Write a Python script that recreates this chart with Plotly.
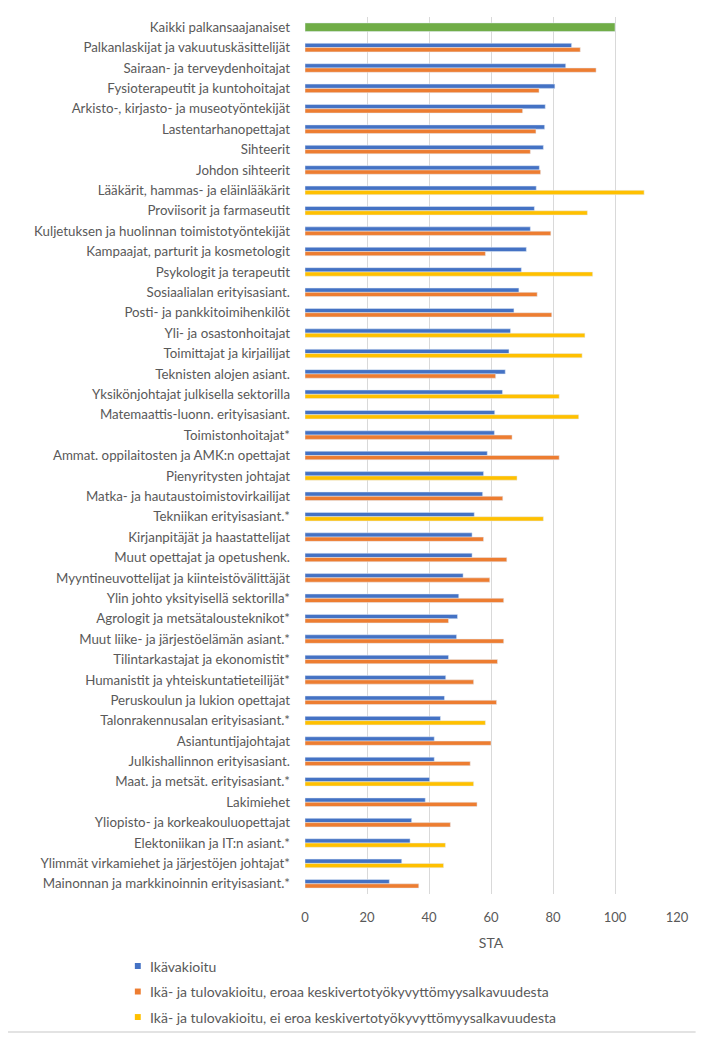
import plotly.graph_objects as go

categories = [
    "Kaikki palkansaajanaiset",
    "Palkanlaskijat ja vakuutuskäsittelijät",
    "Sairaan- ja terveydenhoitajat",
    "Fysioterapeutit ja kuntohoitajat",
    "Arkisto-, kirjasto- ja museotyöntekijät",
    "Lastentarhanopettajat",
    "Sihteerit",
    "Johdon sihteerit",
    "Lääkärit, hammas- ja eläinlääkärit",
    "Proviisorit ja farmaseutit",
    "Kuljetuksen ja huolinnan toimistotyöntekijät",
    "Kampaajat, parturit ja kosmetologit",
    "Psykologit ja terapeutit",
    "Sosiaalialan erityisasiant.",
    "Posti- ja pankkitoimihenkilöt",
    "Yli- ja osastonhoitajat",
    "Toimittajat ja kirjailijat",
    "Teknisten alojen asiant.",
    "Yksikönjohtajat julkisella sektorilla",
    "Matemaattis-luonn. erityisasiant.",
    "Toimistonhoitajat*",
    "Ammat. oppilaitosten ja AMK:n opettajat",
    "Pienyritysten johtajat",
    "Matka- ja hautaustoimistovirkailijat",
    "Tekniikan erityisasiant.*",
    "Kirjanpitäjät ja haastattelijat",
    "Muut opettajat ja opetushenk.",
    "Myyntineuvottelijat ja kiinteistövälittäjät",
    "Ylin johto yksityisellä sektorilla*",
    "Agrologit ja metsätalousteknikot*",
    "Muut liike- ja järjestöelämän asiant.*",
    "Tilintarkastajat ja ekonomistit*",
    "Humanistit ja yhteiskuntatieteilijät*",
    "Peruskoulun ja lukion opettajat",
    "Talonrakennusalan erityisasiant.*",
    "Asiantuntijajohtajat",
    "Julkishallinnon erityisasiant.",
    "Maat. ja metsät. erityisasiant.*",
    "Lakimiehet",
    "Yliopisto- ja korkeakouluopettajat",
    "Elektoniikan ja IT:n asiant.*",
    "Ylimmät virkamiehet ja järjestöjen johtajat*",
    "Mainonnan ja markkinoinnin erityisasiant.*",
]

kaikki_value = 100

ikavakioitu = [None,
    86.0, 84.1, 80.6, 77.5, 77.3, 76.9, 75.6, 74.6, 74.0, 72.7,
    71.4, 69.8, 69.0, 67.4, 66.3, 65.8, 64.6, 63.7, 61.2, 61.1,
    58.8, 57.6, 57.3, 54.6, 53.9, 53.9, 51.0, 49.6, 49.2, 48.9,
    46.3, 45.4, 45.0, 43.7, 41.7, 41.7, 40.2, 38.8, 34.4, 33.9,
    31.2, 27.2]

ika_tulovakioitu = [None,
    88.8, 93.9, 75.5, 70.2, 74.5, 72.7, 76.0, 109.4, 91.1, 79.3,
    58.2, 92.8, 74.9, 79.6, 90.3, 89.4, 61.5, 82.0, 88.3, 66.8,
    82.0, 68.4, 63.8, 76.9, 57.6, 65.1, 59.6, 64.1, 46.3, 64.1,
    62.1, 54.4, 61.8, 58.2, 60.0, 53.3, 54.4, 55.5, 46.9, 45.3,
    44.7, 36.7]

# True = eroaa keskivertotyökyvyttömyysalkavuudesta
eroaa = [None,
    True, True, True, True, True, True, True, False, False, True,
    True, False, True, True, False, False, True, False, False, True,
    True, False, True, False, True, True, True, True, True, True,
    True, True, True, False, True, True, False, True, True, False,
    False, True]

series_names = [
    "Ikävakioitu",
    "Ikä- ja tulovakioitu, eroaa keskivertotyökyvyttömyysalkavuudesta",
    "Ikä- ja tulovakioitu, ei eroa keskivertotyökyvyttömyysalkavuudesta",
]

orange_vals = [v if e is True else None for v, e in zip(ika_tulovakioitu, eroaa)]
yellow_vals = [v if e is False else None for v, e in zip(ika_tulovakioitu, eroaa)]
green_vals = [kaikki_value] + [None] * (len(categories) - 1)

BLUE = "#4472C4"
ORANGE = "#ED7D31"
YELLOW = "#FFC000"
GREEN = "#70AD47"
TXT = "#595959"
FONT = "Lato"
series_colors = [BLUE, ORANGE, YELLOW]

bw = 0.21

fig = go.Figure()
fig.add_trace(go.Bar(
    y=categories, x=green_vals, orientation="h", marker_color=GREEN,
    width=2 * bw, offset=-bw, showlegend=False, name="Kaikki palkansaajanaiset",
))
fig.add_trace(go.Bar(
    y=categories, x=ikavakioitu, orientation="h", marker_color=BLUE,
    width=bw, offset=-bw, name=series_names[0], showlegend=False,
))
fig.add_trace(go.Bar(
    y=categories, x=orange_vals, orientation="h", marker_color=ORANGE,
    width=bw, offset=0, name=series_names[1], showlegend=False,
))
fig.add_trace(go.Bar(
    y=categories, x=yellow_vals, orientation="h", marker_color=YELLOW,
    width=bw, offset=0, name=series_names[2], showlegend=False,
))

# Manual legend (small square swatches + text), placed below the plot area
leg_rows_y = [-0.0821, -0.1112, -0.1403]
sw_x0, sw_x1 = -0.4574, -0.4415
sw_h = 0.0034
txt_x = -0.4210

shapes = []
annotations = []
for name, color, yy in zip(series_names, series_colors, leg_rows_y):
    shapes.append(dict(
        type="rect", xref="paper", yref="paper",
        x0=sw_x0, x1=sw_x1, y0=yy - sw_h, y1=yy + sw_h,
        fillcolor=color, line=dict(width=0),
    ))
    annotations.append(dict(
        xref="paper", yref="paper", x=txt_x, y=yy,
        xanchor="left", yanchor="middle", showarrow=False,
        text=name, font=dict(family=FONT, size=14, color=TXT),
    ))

shapes.append(dict(
    type="line", xref="paper", yref="paper",
    x0=-0.80, x1=1.05, y0=-0.1574, y1=-0.1574,
    line=dict(color="#E3E3E3", width=2),
))

fig.update_layout(
    width=690, height=1025,
    margin=dict(l=297, r=17, t=9, b=139),
    barmode="overlay",
    showlegend=False,
    paper_bgcolor="white", plot_bgcolor="white",
    font=dict(family=FONT, size=13, color=TXT),
    shapes=shapes,
    annotations=annotations,
)

fig.update_xaxes(
    range=[0, 120], dtick=20, showgrid=True, gridcolor="#D9D9D9", gridwidth=1,
    zeroline=False, showline=False, ticks="",
    tickfont=dict(family=FONT, size=13, color=TXT),
    ticklabelstandoff=14,
    title=dict(text="STA", font=dict(family=FONT, size=14, color=TXT), standoff=14),
)
fig.update_yaxes(
    type="category", categoryorder="array", categoryarray=categories,
    range=[len(categories) - 0.5, -0.5],
    showgrid=False, zeroline=False, showline=False, ticks="",
    tickfont=dict(family=FONT, size=13.3, color=TXT),
    ticklabelstandoff=14,
)

fig.write_html("out.html")
